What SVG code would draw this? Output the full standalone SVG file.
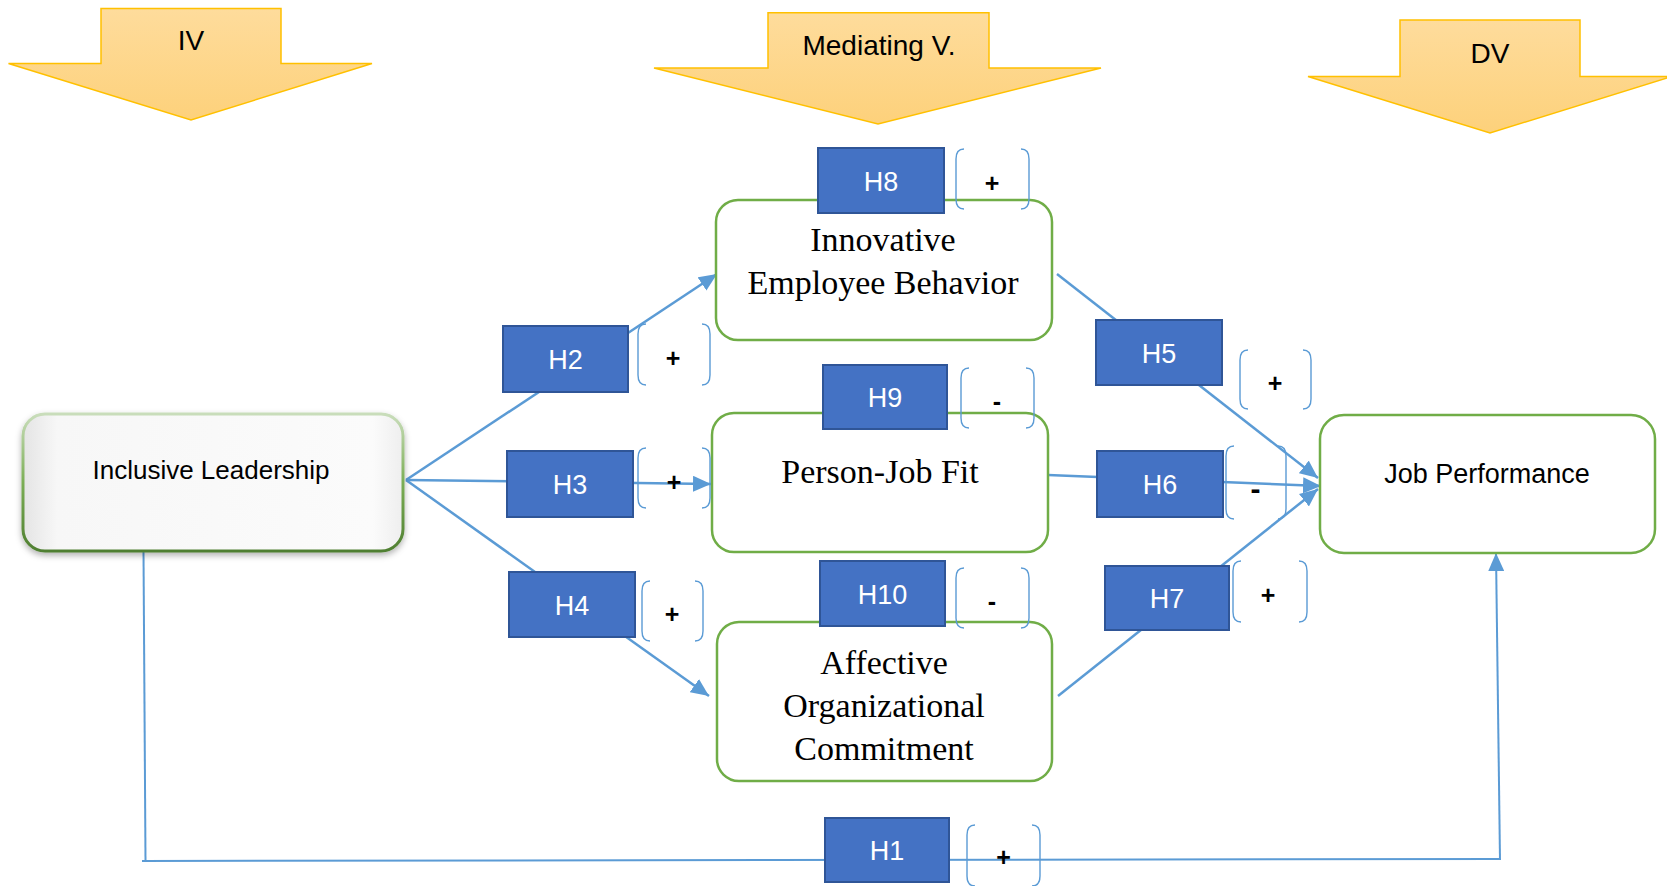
<svg xmlns="http://www.w3.org/2000/svg" width="1667" height="886" viewBox="0 0 1667 886">
<defs>
<linearGradient id="yel" x1="0" y1="0" x2="0" y2="1">
<stop offset="0" stop-color="#fedc9c"/>
<stop offset="1" stop-color="#fdd17b"/>
</linearGradient>
<linearGradient id="ilFill" x1="0" y1="0" x2="1" y2="0">
<stop offset="0" stop-color="#e4e4e4"/>
<stop offset="0.09" stop-color="#f7f7f7"/>
<stop offset="0.92" stop-color="#fbfbfb"/>
<stop offset="1" stop-color="#eeeeee"/>
</linearGradient>
<linearGradient id="ilStroke" x1="0" y1="0" x2="0" y2="1">
<stop offset="0" stop-color="#c9ddbb"/>
<stop offset="0.5" stop-color="#7bae55"/>
<stop offset="1" stop-color="#4f7f31"/>
</linearGradient>
<filter id="sh" x="-10%" y="-10%" width="120%" height="130%">
<feDropShadow dx="0" dy="3" stdDeviation="3" flood-color="#000" flood-opacity="0.3"/>
</filter>
<marker id="ah" markerUnits="userSpaceOnUse" markerWidth="20" markerHeight="16" refX="18" refY="8" orient="auto">
<path d="M0,0 L18,8 L0,16 Z" fill="#5b9bd5"/>
</marker>
<style>
.ya{fill:url(#yel);stroke:#ffc000;stroke-width:1.5}
.yt{font-family:"Liberation Sans",Arial,sans-serif;font-size:28px;fill:#000;text-anchor:middle}
.con{fill:none;stroke:#5b9bd5;stroke-width:2.5}
.con1{fill:none;stroke:#5b9bd5;stroke-width:2}
.med{fill:#fff;stroke:#70ad47;stroke-width:2.5}
.mt{font-family:"Liberation Serif","Times New Roman",serif;font-size:34px;fill:#000;text-anchor:middle}
.st{font-family:"Liberation Sans",Arial,sans-serif;font-size:26px;fill:#000;text-anchor:middle}
.hb{fill:#4472c4;stroke:#2f5597;stroke-width:2}
.ht{font-family:"Liberation Sans",Arial,sans-serif;font-size:27px;fill:#fff;text-anchor:middle}
.br{fill:none;stroke:#5b9bd5;stroke-width:1.4}
.sg{font-family:"Liberation Sans",Arial,sans-serif;font-size:25px;font-weight:bold;fill:#000;text-anchor:middle}
</style>
</defs>
<rect width="1667" height="886" fill="#fff"/>

<g id="header-iv">
<polygon class="ya" points="101,8.5 281,8.5 281,63.5 372,63.5 191,120 8.5,63.5 101,63.5"/>
<text class="yt" x="191" y="50">IV</text>
</g>
<g id="header-mv">
<polygon class="ya" points="768,12.8 989,12.8 989,68 1101,68 878,124 654,68 768,68"/>
<text class="yt" x="879" y="55">Mediating V.</text>
</g>
<g id="header-dv">
<polygon class="ya" points="1400,20 1580,20 1580,76.5 1672,76.5 1490,133 1308,76.5 1400,76.5"/>
<text class="yt" x="1490" y="63">DV</text>
</g>

<g id="connectors">
<line class="con" x1="406" y1="480" x2="717" y2="274" marker-end="url(#ah)"/>
<line class="con" x1="406" y1="480" x2="711" y2="484" marker-end="url(#ah)"/>
<line class="con" x1="406" y1="480" x2="709" y2="696" marker-end="url(#ah)"/>
<line class="con" x1="1057" y1="274" x2="1318" y2="478" marker-end="url(#ah)"/>
<line class="con" x1="1048" y1="475" x2="1321" y2="486" marker-end="url(#ah)"/>
<line class="con" x1="1058" y1="696" x2="1318" y2="489" marker-end="url(#ah)"/>
<polyline class="con1" points="143.5,552 145.5,861"/>
<polyline class="con1" points="142,861 1500,859"/>
<line class="con1" x1="1500" y1="860" x2="1496" y2="553" marker-end="url(#ah)"/>
</g>

<g id="node-il">
<rect x="23" y="414" width="380" height="137" rx="22" fill="url(#ilFill)" stroke="url(#ilStroke)" stroke-width="3" filter="url(#sh)"/>
<text class="st" x="211" y="479">Inclusive Leadership</text>
</g>

<g id="node-ieb">
<rect class="med" x="716" y="200" width="336" height="140" rx="22"/>
<text class="mt" x="883" y="251">Innovative</text>
<text class="mt" x="883" y="294">Employee Behavior</text>
</g>
<g id="node-pjf">
<rect class="med" x="712" y="413" width="336" height="139" rx="22"/>
<text class="mt" x="880" y="483">Person-Job Fit</text>
</g>
<g id="node-aoc">
<rect class="med" x="717" y="622" width="335" height="159" rx="22"/>
<text class="mt" x="884" y="674">Affective</text>
<text class="mt" x="884" y="717">Organizational</text>
<text class="mt" x="884" y="760">Commitment</text>
</g>
<g id="node-jp">
<rect class="med" x="1320" y="415" width="335" height="138" rx="24"/>
<text class="st" x="1487" y="483" style="font-size:27px">Job Performance</text>
</g>

<g id="h8">
<rect class="hb" x="818" y="148" width="126" height="65"/>
<text class="ht" x="881" y="191">H8</text>
<path class="br" d="M964,149 Q956,149 956,159 L956,199 Q956,209 964,209 M1021,149 Q1029,149 1029,159 L1029,199 Q1029,209 1021,209"/>
<text class="sg" x="992" y="192">+</text>
</g>
<g id="h2">
<rect class="hb" x="503" y="326" width="125" height="66"/>
<text class="ht" x="565.5" y="369">H2</text>
<path class="br" d="M646,324 Q638,324 638,334 L638,375 Q638,385 646,385 M702,324 Q710,324 710,334 L710,375 Q710,385 702,385"/>
<text class="sg" x="673" y="367">+</text>
</g>
<g id="h9">
<rect class="hb" x="823" y="365" width="124" height="64"/>
<text class="ht" x="885" y="407">H9</text>
<path class="br" d="M969,368 Q961,368 961,378 L961,418 Q961,428 969,428 M1026,368 Q1034,368 1034,378 L1034,418 Q1034,428 1026,428"/>
<text class="sg" x="997" y="410">-</text>
</g>
<g id="h3">
<rect class="hb" x="507" y="451" width="126" height="66"/>
<text class="ht" x="570" y="494">H3</text>
<path class="br" d="M646,448 Q638,448 638,458 L638,498 Q638,508 646,508 M702,448 Q710,448 710,458 L710,498 Q710,508 702,508"/>
<text class="sg" x="674" y="491">+</text>
</g>
<g id="h4">
<rect class="hb" x="509" y="572" width="126" height="65"/>
<text class="ht" x="572" y="615">H4</text>
<path class="br" d="M650,581 Q642,581 642,591 L642,631 Q642,641 650,641 M695,581 Q703,581 703,591 L703,631 Q703,641 695,641"/>
<text class="sg" x="672" y="623">+</text>
</g>
<g id="h10">
<rect class="hb" x="820" y="561" width="125" height="65"/>
<text class="ht" x="882.5" y="604">H10</text>
<path class="br" d="M964,568 Q956,568 956,578 L956,618 Q956,628 964,628 M1021,568 Q1029,568 1029,578 L1029,618 Q1029,628 1021,628"/>
<text class="sg" x="992" y="610">-</text>
</g>
<g id="h5">
<rect class="hb" x="1096" y="320" width="126" height="65"/>
<text class="ht" x="1159" y="363">H5</text>
<path class="br" d="M1248,350 Q1240,350 1240,360 L1240,399 Q1240,409 1248,409 M1303,350 Q1311,350 1311,360 L1311,399 Q1311,409 1303,409"/>
<text class="sg" x="1275" y="392">+</text>
</g>
<g id="h6">
<rect class="hb" x="1097" y="451" width="126" height="66"/>
<text class="ht" x="1160" y="494">H6</text>
<path class="br" d="M1234,446 Q1226,446 1226,456 L1226,509 Q1226,519 1234,519 M1278,446 Q1286,446 1286,456 L1286,509 Q1286,519 1278,519"/>
<text class="sg" x="1255.5" y="499" style="font-size:30px">-</text>
</g>
<g id="h7">
<rect class="hb" x="1105" y="566" width="124" height="64"/>
<text class="ht" x="1167" y="608">H7</text>
<path class="br" d="M1241,561 Q1233,561 1233,571 L1233,612 Q1233,622 1241,622 M1299,561 Q1307,561 1307,571 L1307,612 Q1307,622 1299,622"/>
<text class="sg" x="1268" y="604">+</text>
</g>
<g id="h1">
<rect class="hb" x="825" y="818" width="124" height="64"/>
<text class="ht" x="887" y="860">H1</text>
<path class="br" d="M975,825 Q967,825 967,835 L967,876 Q967,886 975,886 M1032,825 Q1040,825 1040,835 L1040,876 Q1040,886 1032,886"/>
<text class="sg" x="1003.5" y="866">+</text>
</g>
</svg>
